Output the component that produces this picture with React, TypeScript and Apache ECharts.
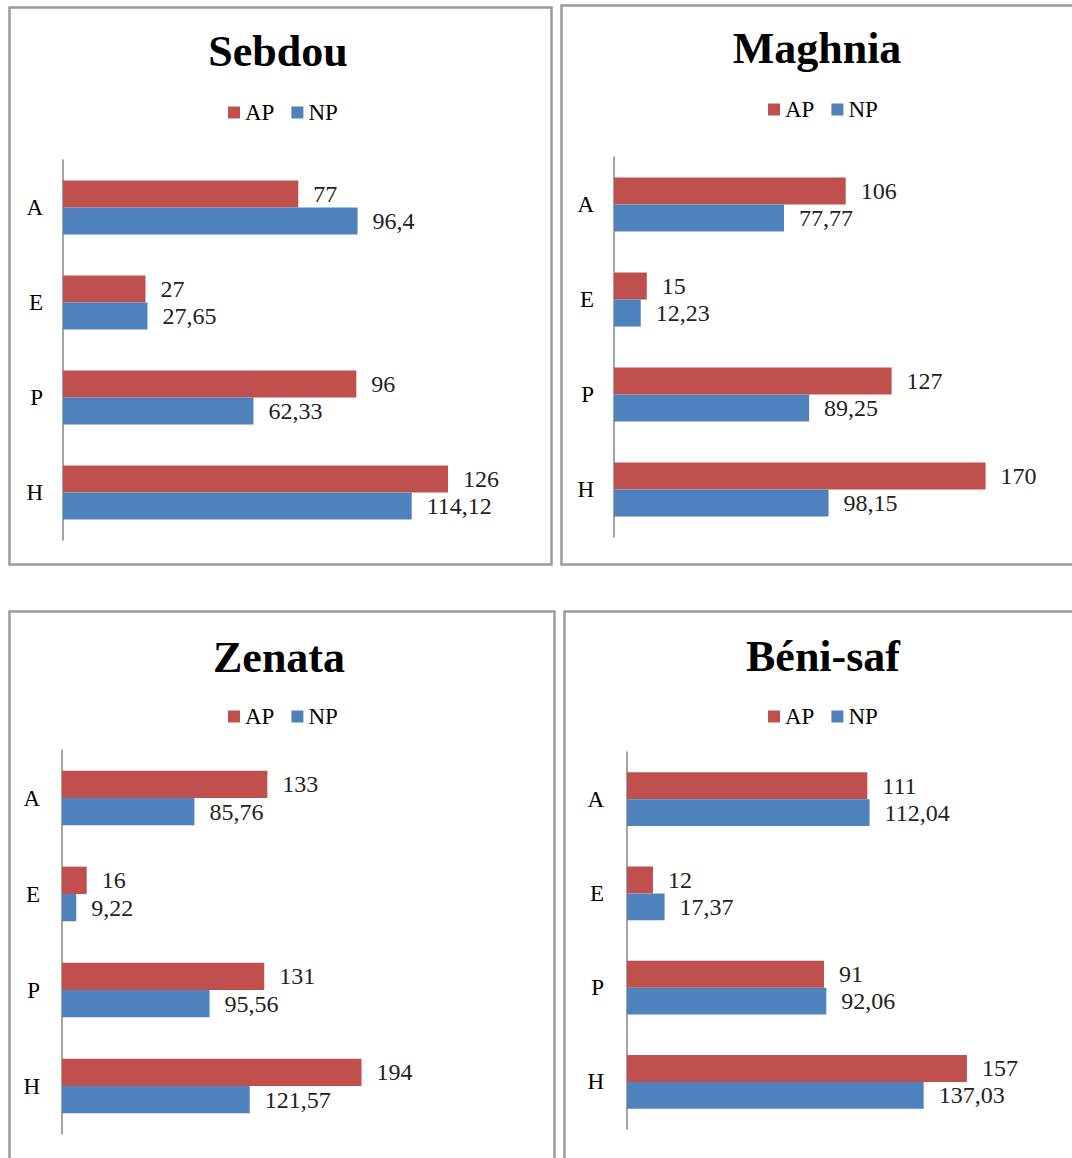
import React, { useEffect, useRef } from 'react';
import * as echarts from 'echarts';

const categories = ['A', 'E', 'P', 'H'];
const seriesNames = ['AP', 'NP'];
const panelTitles = ['Sebdou', 'Maghnia', 'Zenata', 'Béni-saf'];
const sebdouAP = [77, 27, 96, 126];
const sebdouNP = [96.4, 27.65, 62.33, 114.12];
const maghniaAP = [106, 15, 127, 170];
const maghniaNP = [77.77, 12.23, 89.25, 98.15];
const zenataAP = [133, 16, 131, 194];
const zenataNP = [85.76, 9.22, 95.56, 121.57];
const beniSafAP = [111, 12, 91, 157];
const beniSafNP = [112.04, 17.37, 92.06, 137.03];
const axisMax = [140, 200, 250, 200];

const panelData = [
  [sebdouAP, sebdouNP],
  [maghniaAP, maghniaNP],
  [zenataAP, zenataNP],
  [beniSafAP, beniSafNP],
];

const seriesColors = ['#C0504D', '#4F81BD'];
const FONT = '"Liberation Serif", "Times New Roman", serif';

const layout = [
  { box: [9.5, 7.5, 542, 557], grid: { left: 63, top: 160, width: 427.8, height: 380 }, titleX: 278, titleY: 51, legendLeft: 228, legendTop: 101, catMargin: 20 },
  { box: [561.5, 5.5, 520, 559], grid: { left: 614, top: 157, width: 437.2, height: 380 }, titleX: 817, titleY: 48, legendLeft: 768, legendTop: 98, catMargin: 20 },
  { box: [9.5, 611.5, 545, 560], grid: { left: 62, top: 750, width: 386, height: 384 }, titleX: 279, titleY: 657, legendLeft: 228, legendTop: 705, catMargin: 22 },
  { box: [564.5, 611.5, 520, 560], grid: { left: 627, top: 752, width: 433, height: 377 }, titleX: 823, titleY: 656, legendLeft: 768, legendTop: 705, catMargin: 23 },
];

export default function App() {
  const ref = useRef<HTMLDivElement>(null);
  useEffect(() => {
    if (!ref.current) return;
    const chart = echarts.init(ref.current, null, { renderer: 'svg' });
    const grids: any[] = [];
    const xAxes: any[] = [];
    const yAxes: any[] = [];
    const legends: any[] = [];
    const series: any[] = [];
    const graphics: any[] = [];
    layout.forEach((l, i) => {
      grids.push({ ...l.grid, containLabel: false });
      xAxes.push({ type: 'value', gridIndex: i, min: 0, max: axisMax[i], show: false, splitLine: { show: false } });
      yAxes.push({
        type: 'category',
        gridIndex: i,
        data: categories,
        inverse: true,
        axisLine: { show: true, lineStyle: { color: '#868686', width: 1.5 } },
        axisTick: { show: false },
        axisLabel: { margin: l.catMargin, fontSize: 23, color: '#000', fontFamily: FONT },
      });
      legends.push({
        left: l.legendLeft,
        top: l.legendTop,
        data: seriesNames,
        icon: 'rect',
        itemWidth: 12,
        itemHeight: 12,
        itemGap: 17,
        padding: 0,
        selectedMode: false,
        textStyle: { fontSize: 23, color: '#000', fontFamily: FONT },
      });
      seriesNames.forEach((name, k) => {
        series.push({
          type: 'bar',
          name,
          xAxisIndex: i,
          yAxisIndex: i,
          data: panelData[i][k],
          barGap: '0%',
          barCategoryGap: '43%',
          itemStyle: { color: seriesColors[k] },
          label: {
            show: true,
            position: 'right',
            distance: 15,
            fontSize: 24,
            color: '#222',
            fontFamily: FONT,
            formatter: (p: any) => String(p.value).replace('.', ','),
          },
        });
      });
      graphics.push({
        type: 'rect',
        shape: { x: l.box[0], y: l.box[1], width: l.box[2], height: l.box[3] },
        style: { fill: 'none', stroke: '#9b9b9b', lineWidth: 2.5 },
        silent: true,
      });
      graphics.push({
        type: 'text',
        x: l.titleX,
        y: l.titleY,
        style: {
          text: panelTitles[i],
          fontSize: 44,
          fontWeight: 'bold',
          fontFamily: FONT,
          fill: '#000',
          align: 'center',
          verticalAlign: 'middle',
          textAlign: 'center',
          textVerticalAlign: 'middle',
        },
      });
    });
    chart.setOption({
      animation: false,
      backgroundColor: '#fff',
      grid: grids,
      xAxis: xAxes,
      yAxis: yAxes,
      legend: legends,
      series,
      graphic: graphics,
    });
    return () => chart.dispose();
  }, []);
  return <div ref={ref} style={{ position: 'absolute', left: 0, top: 0, width: 1072, height: 1158 }} />;
}
